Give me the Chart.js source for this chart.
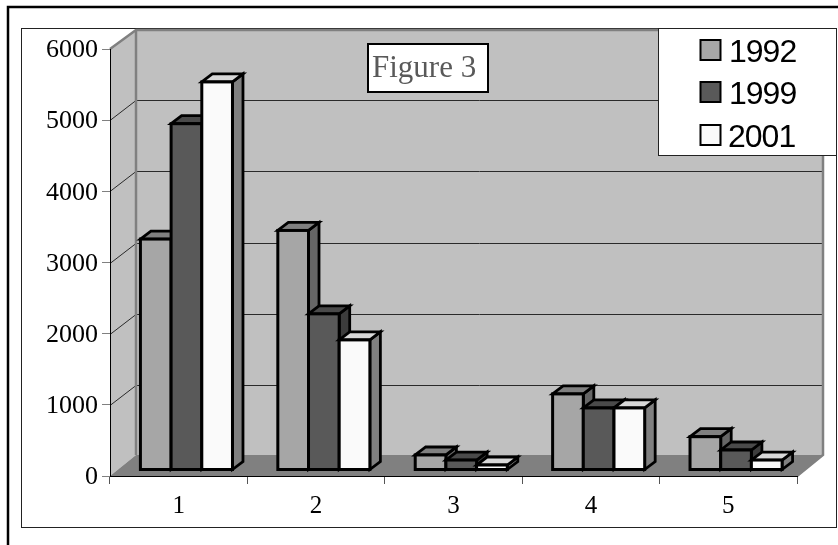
<!DOCTYPE html>
<html>
<head>
<meta charset="utf-8">
<style>html,body{margin:0;padding:0;background:#fff}canvas{display:block}</style>
<script src="https://cdn.jsdelivr.net/npm/chart.js@4"></script>
</head>
<body>
<canvas id="c" width="838" height="545"></canvas>
<script>
const categories = ['1', '2', '3', '4', '5'];
const values1992 = [3245, 3366, 211, 1069, 468];
const values1999 = [4866, 2194, 140, 872, 281];
const values2001 = [5453, 1828, 70, 872, 140];
const seriesNames = ['1992', '1999', '2001'];
const frontColors = ['#a6a6a6', '#595959', '#fafafa'];
const topColors = ['#808080', '#4a4a4a', '#d8d8d8'];
const sideColors = ['#666666', '#3c3c3c', '#808080'];
const chartTitle = 'Figure 3';

const WALL_DX = 26, WALL_DY = 20;   // depth of the 3D box
const BAR_OX = 7.75, BAR_OY = 6;    // bar front-face offset inside the box
const BAR_DX = 10.5, BAR_DY = 8;    // bar depth

function poly(ctx, pts, fill, stroke, lw) {
  ctx.beginPath();
  pts.forEach((p, i) => i ? ctx.lineTo(p[0], p[1]) : ctx.moveTo(p[0], p[1]));
  ctx.closePath();
  if (fill) { ctx.fillStyle = fill; ctx.fill(); }
  if (stroke) { ctx.strokeStyle = stroke; ctx.lineWidth = lw; ctx.stroke(); }
}
function line(ctx, pts, color, lw) {
  ctx.beginPath();
  pts.forEach((p, i) => i ? ctx.lineTo(p[0], p[1]) : ctx.moveTo(p[0], p[1]));
  ctx.strokeStyle = color; ctx.lineWidth = lw; ctx.stroke();
}

let labelsNudged = false;
const box3d = {
  id: 'box3d',
  beforeDraw(chart) {
    const ctx = chart.ctx, a = chart.chartArea, ys = chart.scales.y;
    const L = a.left, R = a.right, T = a.top, B = a.bottom;
    if (!labelsNudged) {
      ys.getLabelItems(a).forEach(item => { item.options.translation[1] += 1.5; });
      labelsNudged = true;
    }
    ctx.save();
    ctx.fillStyle = '#fff';
    ctx.fillRect(0, 0, chart.width, chart.height);
    // outer page frame
    line(ctx, [[8, 545], [8, 7], [838, 7]], '#000', 2.5);
    // chart frame
    ctx.strokeStyle = '#222'; ctx.lineWidth = 1;
    ctx.strokeRect(21.5, 28.5, 815, 499);
    // walls
    poly(ctx, [[L + WALL_DX, T - WALL_DY + 1], [R + WALL_DX, T - WALL_DY + 1], [R + WALL_DX, B - WALL_DY - 1], [L + WALL_DX, B - WALL_DY - 1]], '#c0c0c0');
    poly(ctx, [[L, T], [L + WALL_DX, T - WALL_DY + 1], [L + WALL_DX, B - WALL_DY - 1], [L, B]], '#c0c0c0');
    poly(ctx, [[L, B], [L + WALL_DX, B - WALL_DY - 1], [R + WALL_DX, B - WALL_DY - 1], [R, B]], '#808080');
    // gridlines
    ys.ticks.forEach(t => {
      if (t.value === 0 || t.value === ys.max) return;
      const y = Math.round(ys.getPixelForValue(t.value)) + 0.5;
      line(ctx, [[L, y], [L + WALL_DX, y - WALL_DY], [R + WALL_DX, y - WALL_DY]], '#2a2a2a', 1);
    });
    // wall edges
    line(ctx, [[L, T], [L + WALL_DX, T - WALL_DY + 1], [R + WALL_DX, T - WALL_DY + 1], [R + WALL_DX, B - WALL_DY - 1], [R, B]], '#808080', 2.5);
    line(ctx, [[L + WALL_DX, T - WALL_DY + 1], [L + WALL_DX, B - WALL_DY - 1]], '#808080', 2.5);
    ctx.restore();
  },
  beforeDatasetsDraw(chart) {
    const ctx = chart.ctx;
    ctx.save();
    ctx.translate(BAR_OX, -BAR_OY);
    ctx.lineJoin = 'miter';
    chart.data.datasets.forEach((ds, i) => {
      chart.getDatasetMeta(i).data.forEach(el => {
        const x1 = el.x - el.width / 2, x2 = el.x + el.width / 2;
        const top = el.y, base = el.base;
        poly(ctx, [[x2, top], [x2 + BAR_DX, top - BAR_DY], [x2 + BAR_DX, base - BAR_DY], [x2, base]], sideColors[i], '#000', 2.8);
        poly(ctx, [[x1, top], [x1 + BAR_DX, top - BAR_DY], [x2 + BAR_DX, top - BAR_DY], [x2, top]], topColors[i], '#000', 2.8);
        el.draw(ctx);
        ctx.strokeStyle = '#000'; ctx.lineWidth = 3;
        ctx.strokeRect(x1, top, el.width, base - top);
      });
    });
    ctx.restore();
    return false;
  },
  afterDraw(chart) {
    const ctx = chart.ctx;
    ctx.save();
    // title box
    ctx.fillStyle = '#fff';
    ctx.fillRect(368, 44, 120, 48);
    ctx.strokeStyle = '#000'; ctx.lineWidth = 2;
    ctx.strokeRect(368, 44, 120, 48);
    ctx.fillStyle = '#595959';
    ctx.font = '31px "Liberation Serif"';
    ctx.textAlign = 'left'; ctx.textBaseline = 'alphabetic';
    ctx.fillText(chartTitle, 372, 77);
    // legend
    ctx.fillStyle = '#fff';
    ctx.fillRect(658.5, 28.5, 178, 127);
    ctx.strokeStyle = '#222'; ctx.lineWidth = 1;
    ctx.strokeRect(658.5, 28.5, 178, 127);
    const rows = [50, 92, 135];
    ctx.font = '32px "Liberation Sans"';
    ctx.letterSpacing = '-1px';
    ctx.textBaseline = 'alphabetic';
    chart.data.datasets.forEach((ds, i) => {
      ctx.fillStyle = frontColors[i];
      ctx.fillRect(700.5, rows[i] - 10, 20, 20);
      ctx.strokeStyle = '#000'; ctx.lineWidth = 2;
      ctx.strokeRect(700.5, rows[i] - 10, 20, 20);
      ctx.fillStyle = '#000';
      ctx.fillText(ds.label, i === 2 ? 728 : 729, rows[i] + 12);
    });
    ctx.restore();
  }
};

new Chart(document.getElementById('c'), {
  type: 'bar',
  data: {
    labels: categories,
    datasets: [values1992, values1999, values2001].map((v, i) => ({
      label: seriesNames[i],
      data: v,
      backgroundColor: frontColors[i],
      borderWidth: 0,
      barPercentage: 1,
      categoryPercentage: 0.67
    }))
  },
  options: {
    responsive: false,
    animation: false,
    layout: { padding: { left: 0, top: 49, right: 41, bottom: 0 } },
    plugins: { legend: { display: false }, title: { display: false }, tooltip: { enabled: false } },
    scales: {
      x: {
        afterFit(s) { s.height = 69; },
        grid: { drawOnChartArea: false, tickLength: 8, tickColor: '#555', tickWidth: 1 },
        border: { color: '#000', width: 1 },
        ticks: { color: '#000', padding: 7, font: { family: 'Liberation Serif', size: 25 }, maxRotation: 0 }
      },
      y: {
        min: 0, max: 6000,
        afterFit(s) { s.width = 110; },
        grid: { drawOnChartArea: false, tickLength: 8, tickColor: '#808080', tickWidth: 1 },
        border: { color: '#000', width: 1 },
        ticks: {
          stepSize: 1000, color: '#000', padding: 4,
          font: { family: 'Liberation Serif', size: 26 },
          callback: v => String(v)
        }
      }
    }
  },
  plugins: [box3d]
});
</script>
</body>
</html>
